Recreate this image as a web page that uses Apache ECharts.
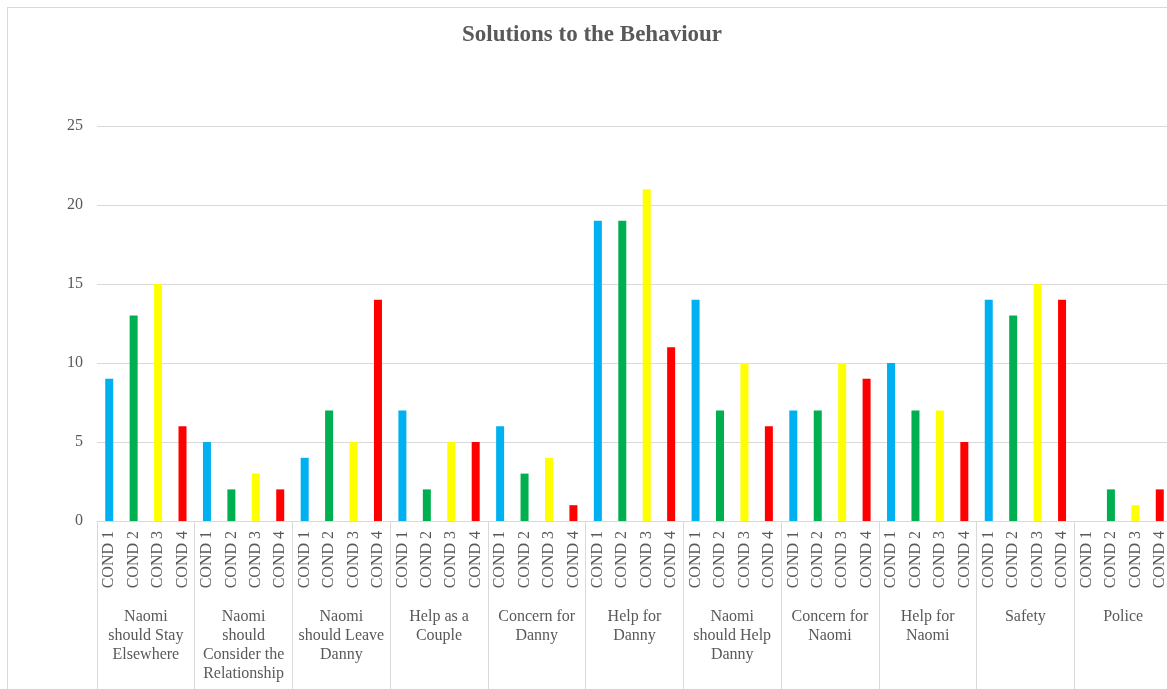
<!DOCTYPE html>
<html>
<head>
<meta charset="utf-8">
<script src="https://cdn.jsdelivr.net/npm/echarts@6/dist/echarts.min.js"></script>
<style>
  body { margin: 0; background: #fff; }
  .wrap { position: relative; width: 1167px; height: 689px; overflow: hidden; }
  .frame { position: absolute; left: 7px; top: 7px; width: 1180px; height: 700px; border: 1px solid #d9d9d9; }
  #main { position: absolute; left: 0; top: 0; width: 1190px; height: 689px; }
</style>
</head>
<body>
<div class="wrap">
  <div class="frame"></div>
  <div id="main"></div>
</div>
<script>
// groups shown on the lower axis row
var groups = [
  'Naomi\nshould Stay\nElsewhere',
  'Naomi\nshould\nConsider the\nRelationship',
  'Naomi\nshould Leave\nDanny',
  'Help as a\nCouple',
  'Concern for\nDanny',
  'Help for\nDanny',
  'Naomi\nshould Help\nDanny',
  'Concern for\nNaomi',
  'Help for\nNaomi',
  'Safety',
  'Police'
]
var conds = ['COND 1', 'COND 2', 'COND 3', 'COND 4']
var condColors = ['#00B0F0', '#00B050', '#FFFF00', '#FF0000']

// one row per group: COND 1..4
var values = [
  [9, 13, 15, 6],
  [5, 2, 3, 2],
  [4, 7, 5, 14],
  [7, 2, 5, 5],
  [6, 3, 4, 1],
  [19, 19, 21, 11],
  [14, 7, 10, 6],
  [7, 7, 10, 9],
  [10, 7, 7, 5],
  [14, 13, 15, 14],
  [0, 2, 1, 2]
]

var yTicks = [0, 5, 10, 15, 20, 25]

var catLabels = []
var barData = []
groups.forEach(function(g, gi) {
  conds.forEach(function(c, ci) {
    catLabels.push(c)
    barData.push({
      value: values[gi][ci],
      itemStyle: { color: condColors[ci] }
    })
  })
})

var font = 'Liberation Serif, Times New Roman, serif'
var myChart = echarts.init(document.getElementById('main'))
var option = {
  animation: false,
  title: {
    text: 'Solutions to the Behaviour',
    left: 587,
    textAlign: 'center',
    top: 19,
    textStyle: {
      fontFamily: font,
      fontSize: 23,
      fontWeight: 'bold',
      color: '#595959'
    }
  },
  grid: {
    left: 97,
    top: 126,
    width: 1075,
    bottom: 168,
    containLabel: false
  },
  xAxis: [
    {
      type: 'category',
      data: catLabels,
      position: 'bottom',
      axisLine: { show: false },
      axisTick: { show: false },
      axisLabel: {
        interval: 0,
        rotate: 90,
        margin: 10,
        fontFamily: font,
        fontSize: 16,
        color: '#595959'
      }
    },
    {
      type: 'category',
      data: groups,
      position: 'bottom',
      axisLine: { show: true, lineStyle: { color: '#d9d9d9', width: 1 } },
      axisTick: {
        show: true,
        interval: 0,
        length: 168,
        lineStyle: { color: '#d9d9d9', width: 1 }
      },
      axisLabel: {
        interval: 0,
        margin: 86,
        lineHeight: 19,
        verticalAlign: 'top',
        fontFamily: font,
        fontSize: 16,
        color: '#595959'
      }
    }
  ],
  yAxis: {
    type: 'value',
    min: yTicks[0],
    max: yTicks[yTicks.length - 1],
    interval: 5,
    axisLine: { show: false },
    axisTick: { show: false },
    splitLine: { lineStyle: { color: '#d9d9d9', width: 1 } },
    axisLabel: {
      margin: 14,
      fontFamily: font,
      fontSize: 16,
      color: '#595959'
    }
  },
  series: [{
    type: 'bar',
    xAxisIndex: 0,
    barWidth: 8,
    data: barData
  }]
}
myChart.setOption(option)
</script>
</body>
</html>
